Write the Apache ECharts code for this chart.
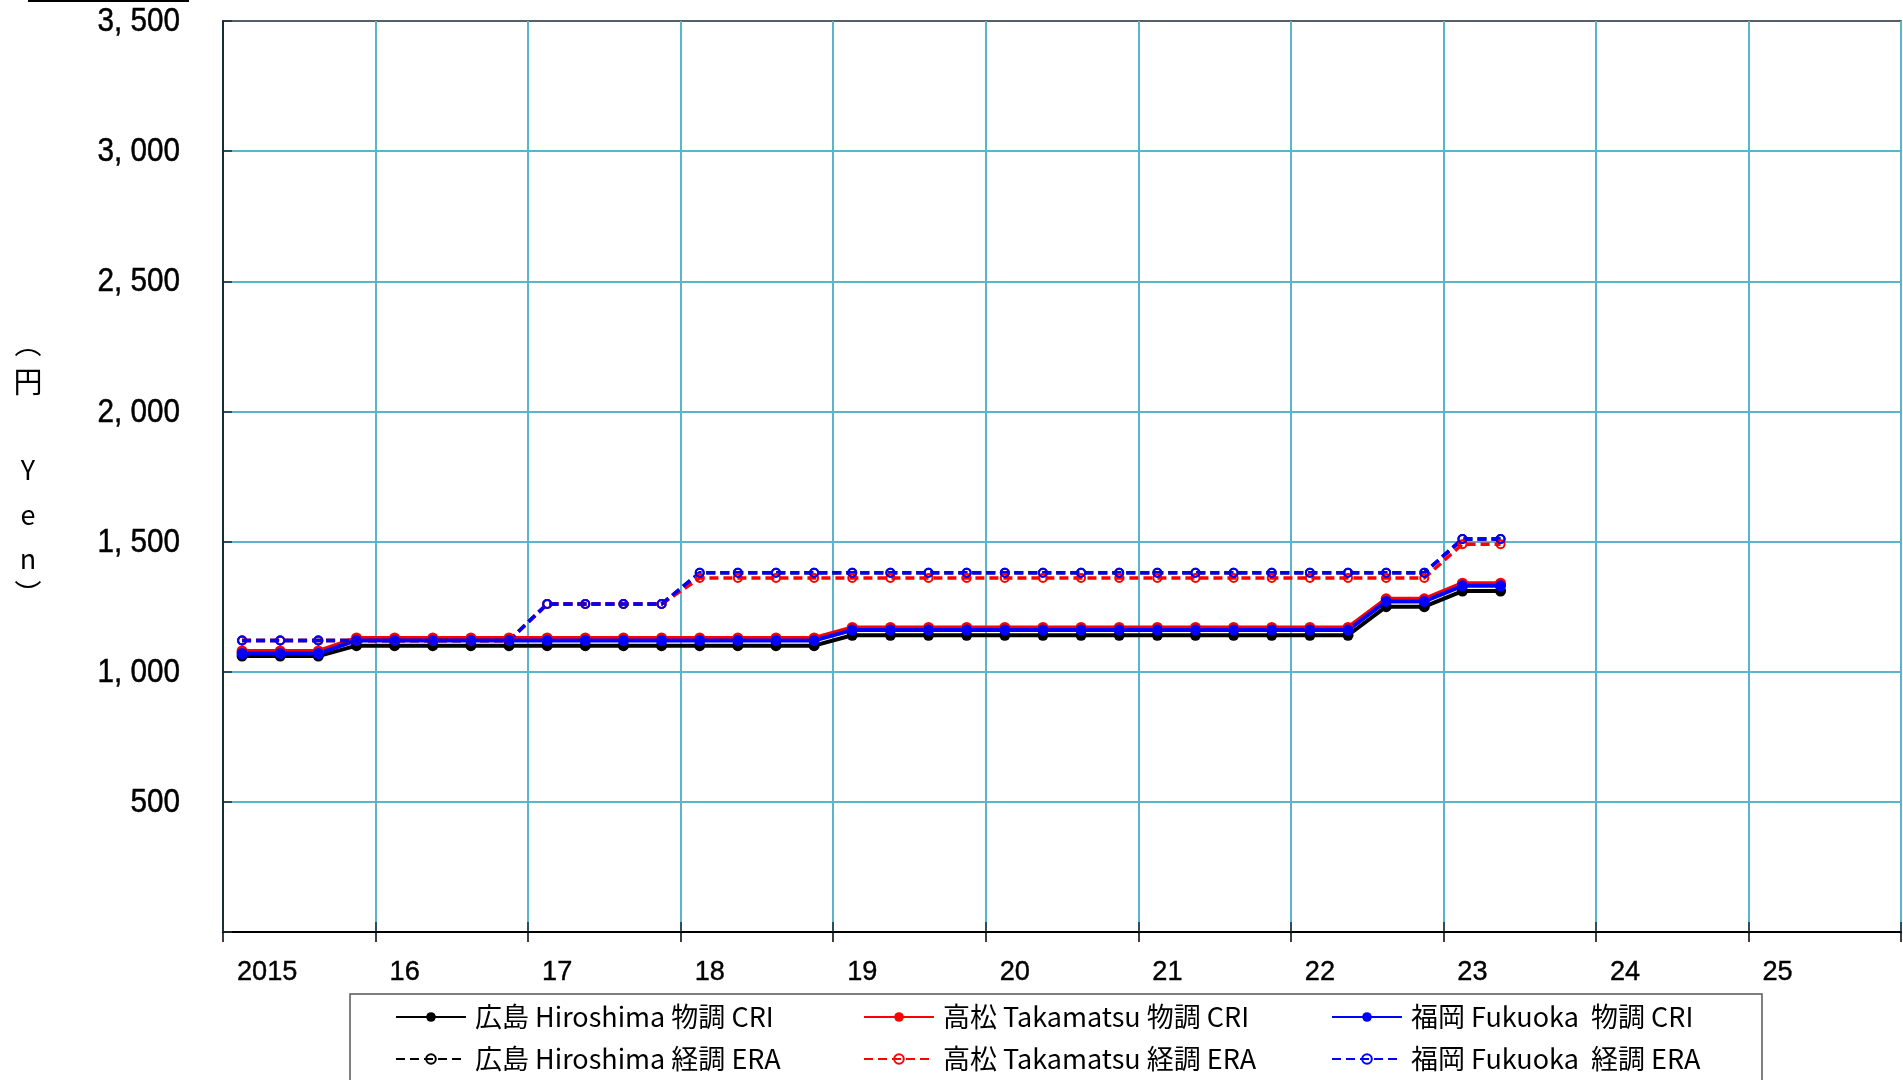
<!DOCTYPE html>
<html>
<head>
<meta charset="utf-8">
<script src="https://cdn.jsdelivr.net/npm/echarts@6/dist/echarts.min.js"></script>
<style>
  html, body { margin: 0; padding: 0; background: #ffffff; }
  #chart { width: 1903px; height: 1080px; }
</style>
</head>
<body>
<div id="chart"></div>
<script>
// Quarterly observations (placed at the middle of each quarter)
const quarters = [
  '2015Q1','2015Q2','2015Q3','2015Q4',
  '2016Q1','2016Q2','2016Q3','2016Q4',
  '2017Q1','2017Q2','2017Q3','2017Q4',
  '2018Q1','2018Q2','2018Q3','2018Q4',
  '2019Q1','2019Q2','2019Q3','2019Q4',
  '2020Q1','2020Q2','2020Q3','2020Q4',
  '2021Q1','2021Q2','2021Q3','2021Q4',
  '2022Q1','2022Q2','2022Q3','2022Q4',
  '2023Q1','2023Q2'
];

// 物調 CRI (yen)
const hiroshimaCRI = [1060,1060,1060,1100, 1100,1100,1100,1100, 1100,1100,1100,1100, 1100,1100,1100,1100,
                      1140,1140,1140,1140, 1140,1140,1140,1140, 1140,1140,1140,1140, 1140,1140,1250,1250, 1310,1310];
const takamatsuCRI = [1080,1080,1080,1130, 1130,1130,1130,1130, 1130,1130,1130,1130, 1130,1130,1130,1130,
                      1170,1170,1170,1170, 1170,1170,1170,1170, 1170,1170,1170,1170, 1170,1170,1280,1280, 1340,1340];
const fukuokaCRI   = [1070,1070,1070,1120, 1120,1120,1120,1120, 1120,1120,1120,1120, 1120,1120,1120,1120,
                      1160,1160,1160,1160, 1160,1160,1160,1160, 1160,1160,1160,1160, 1160,1160,1270,1270, 1330,1330];

// 経調 ERA (yen)
const hiroshimaERA = [1120,1120,1120,1120, 1120,1120,1120,1120, 1260,1260,1260,1260, 1380,1380,1380,1380,
                      1380,1380,1380,1380, 1380,1380,1380,1380, 1380,1380,1380,1380, 1380,1380,1380,1380, 1510,1510];
const takamatsuERA = [1120,1120,1120,1120, 1120,1120,1120,1120, 1260,1260,1260,1260, 1360,1360,1360,1360,
                      1360,1360,1360,1360, 1360,1360,1360,1360, 1360,1360,1360,1360, 1360,1360,1360,1360, 1490,1490];
const fukuokaERA   = [1120,1120,1120,1120, 1120,1120,1120,1120, 1260,1260,1260,1260, 1380,1380,1380,1380,
                      1380,1380,1380,1380, 1380,1380,1380,1380, 1380,1380,1380,1380, 1380,1380,1380,1380, 1510,1510];

const seriesNames = [
  '広島 Hiroshima 物調 CRI', '高松 Takamatsu 物調 CRI', '福岡 Fukuoka  物調 CRI',
  '広島 Hiroshima 経調 ERA', '高松 Takamatsu 経調 ERA', '福岡 Fukuoka  経調 ERA'
];
const seriesColors = ['#000000', '#ff0000', '#0000ff', '#000000', '#ff0000', '#0000ff'];

// Axis ticks
const yearTicks = [2015, 2016, 2017, 2018, 2019, 2020, 2021, 2022, 2023, 2024, 2025, 2026];
const yenTicks = [0, 500, 1000, 1500, 2000, 2500, 3000, 3500];

const yearMin = yearTicks[0], yearMax = yearTicks[yearTicks.length - 1];
const yMax = yenTicks[yenTicks.length - 1], yStep = 500;

const numFont = '"Liberation Sans", Arial, sans-serif';
const jpFont = '"Noto Sans CJK JP", "Noto Sans", sans-serif';
const gridColor = '#5ab4cc';

function quarterX(q) {
  const y = parseInt(q.slice(0, 4), 10);
  const n = parseInt(q.slice(5), 10);
  return y + (n - 0.5) / 4;
}
function pairs(values) {
  return quarters.map((q, i) => [quarterX(q), values[i]]);
}
function yenLabel(v) {
  if (v === 0) return '';
  if (v >= 1000) {
    const rest = String(v % 1000).padStart(3, '0');
    return Math.floor(v / 1000) + ', ' + rest;
  }
  return String(v);
}
function yearLabel(v) {
  if (v === yearMin) return String(v);
  if (v >= yearMax) return '';
  return String(v % 100);
}

function criSeries(name, color, values) {
  return {
    name, type: 'line', data: pairs(values),
    symbol: 'circle', symbolSize: 11,
    lineStyle: { color, width: 4 },
    itemStyle: { color },
    animation: false
  };
}
function eraSeries(name, color, values) {
  return {
    name, type: 'line', data: pairs(values),
    symbol: 'circle', symbolSize: 8,
    lineStyle: { color, width: 3.5, type: [9, 5] },
    itemStyle: { color: 'rgba(255,255,255,0)', borderColor: color, borderWidth: 2 },
    animation: false
  };
}

const chart = echarts.init(document.getElementById('chart'), null, { renderer: 'canvas' });

chart.setOption({
  backgroundColor: '#ffffff',
  animation: false,
  grid: {
    left: 223, top: 21, right: 2, bottom: 148,
    show: true, borderColor: '#1e2e36', borderWidth: 1.5, backgroundColor: 'transparent'
  },
  xAxis: [
    {
      type: 'value', min: yearMin, max: yearMax, interval: 1,
      axisLine: { show: true, lineStyle: { color: '#000', width: 2 } },
      axisTick: { show: true, inside: false, length: 10, lineStyle: { color: '#000', width: 1.5 } },
      splitLine: { show: true, lineStyle: { color: gridColor, width: 2 } },
      axisLabel: { show: false }
    },
    {
      type: 'value', min: yearMin, max: yearMax, interval: 1, position: 'bottom',
      axisLine: { show: false },
      axisTick: { show: true, inside: true, length: 10, lineStyle: { color: '#1e2e36', width: 1.5 } },
      splitLine: { show: false },
      axisLabel: { show: false }
    }
  ],
  yAxis: {
    type: 'value', min: 0, max: yMax, interval: yStep,
    axisLine: { show: true, lineStyle: { color: '#000', width: 1.5 } },
    axisTick: { show: true, inside: true, length: 9, lineStyle: { color: '#1e2e36', width: 1.5 } },
    splitLine: { show: true, showMaxLine: false, lineStyle: { color: gridColor, width: 2 } },
    axisLabel: { show: false }
  },
  legend: {
    left: 395, top: 996, orient: 'horizontal', width: 1500,
    itemGap: 0, itemWidth: 70, itemHeight: 12,
    padding: 0,
    textStyle: {
      fontFamily: jpFont, fontSize: 27, color: '#000',
      width: 388, lineHeight: 42, padding: [0, 0, 0, 4]
    },
    data: seriesNames
  },
  series: [
    criSeries(seriesNames[0], seriesColors[0], hiroshimaCRI),
    criSeries(seriesNames[1], seriesColors[1], takamatsuCRI),
    criSeries(seriesNames[2], seriesColors[2], fukuokaCRI),
    eraSeries(seriesNames[3], seriesColors[3], hiroshimaERA),
    eraSeries(seriesNames[4], seriesColors[4], takamatsuERA),
    eraSeries(seriesNames[5], seriesColors[5], fukuokaERA)
  ]
});

// Condensed tick labels, anchored on the axes' own pixel scale
const axisLeft = chart.convertToPixel({ xAxisIndex: 0 }, yearMin);
const axisBottom = chart.convertToPixel({ yAxisIndex: 0 }, 0);

const tickLabels = [];
yenTicks.forEach(v => {
  const text = yenLabel(v);
  if (!text) return;
  tickLabels.push({
    type: 'text', x: axisLeft - 43, y: chart.convertToPixel({ yAxisIndex: 0 }, v) + 1, scaleX: 0.9,
    style: { text, font: '33px ' + numFont, fill: '#000', stroke: '#000', lineWidth: 0.5,
             align: 'right', verticalAlign: 'middle' }
  });
});
yearTicks.forEach(v => {
  const text = yearLabel(v);
  if (!text) return;
  tickLabels.push({
    type: 'text', x: chart.convertToPixel({ xAxisIndex: 0 }, v) + 14, y: axisBottom + 40, scaleX: 0.97,
    style: { text, font: '28px ' + numFont, fill: '#000', stroke: '#000', lineWidth: 0.4,
             align: 'left', verticalAlign: 'middle' }
  });
});

chart.setOption({
  graphic: [
    { type: 'line', shape: { x1: 28, y1: 1, x2: 189, y2: 1 }, style: { stroke: '#000', lineWidth: 2 } },
    { type: 'rect', shape: { x: 350, y: 994, width: 1412, height: 140 },
      style: { fill: 'none', stroke: '#555', lineWidth: 1.5 }, z: -1 },
    { type: 'text', x: 28, y: 344, style: { text: '︵', font: '27px ' + jpFont, fill: '#000', align: 'center', verticalAlign: 'middle' } },
    { type: 'text', x: 28, y: 382, style: { text: '円', font: '29px ' + jpFont, fill: '#000', align: 'center', verticalAlign: 'middle' } },
    { type: 'text', x: 28, y: 470, style: { text: 'Y', font: '27px ' + jpFont, fill: '#000', align: 'center', verticalAlign: 'middle' } },
    { type: 'text', x: 28, y: 515, style: { text: 'e', font: '27px ' + jpFont, fill: '#000', align: 'center', verticalAlign: 'middle' } },
    { type: 'text', x: 28, y: 559, style: { text: 'n', font: '27px ' + jpFont, fill: '#000', align: 'center', verticalAlign: 'middle' } },
    { type: 'text', x: 28, y: 594, style: { text: '︶', font: '27px ' + jpFont, fill: '#000', align: 'center', verticalAlign: 'middle' } }
  ].concat(tickLabels)
});
</script>
</body>
</html>
